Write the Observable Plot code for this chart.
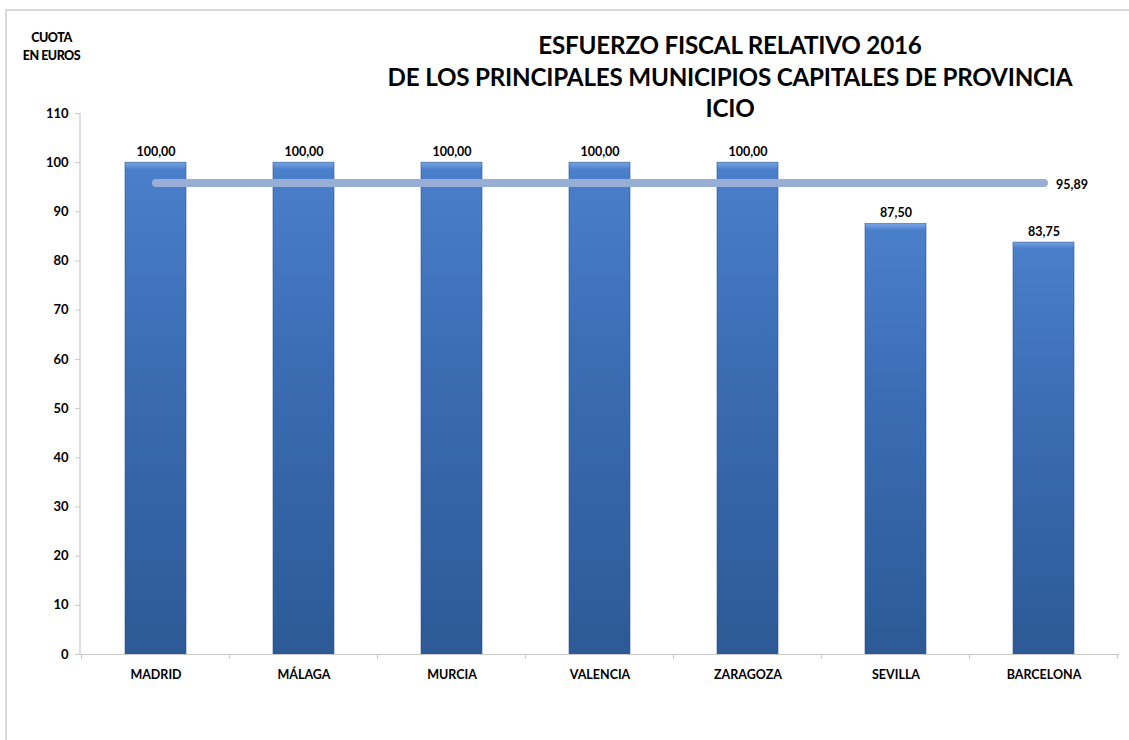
<!DOCTYPE html>
<html>
<head>
<meta charset="utf-8">
<script src="https://cdn.jsdelivr.net/npm/d3@7"></script>
<script src="https://cdn.jsdelivr.net/npm/@observablehq/plot@0.6"></script>
<style>
  html, body { margin: 0; padding: 0; background: #fff; }
  #wrap { position: relative; width: 1129px; height: 740px; overflow: hidden; font-family: Lato, "Open Sans", sans-serif; }
  #frame { position: absolute; left: 5px; top: 9px; width: 1140px; height: 760px; border: 2px solid #d9d9d9; box-sizing: border-box; }
  #title { position: absolute; left: 330px; width: 800px; top: 29px; text-align: center; font-weight: 700; font-size: 24.2px; line-height: 31.5px; color: #000; letter-spacing: -0.2px; }
  #unit { position: absolute; left: 10px; top: 29px; width: 83px; text-align: center; font-weight: 900; font-size: 12.5px; line-height: 18px; letter-spacing: -0.5px; color: #000; }
  #chart { position: absolute; left: 0; top: 0; }
</style>
</head>
<body>
<div id="wrap">
  <div id="frame"></div>
  <div id="title">ESFUERZO FISCAL RELATIVO 2016<br>DE LOS PRINCIPALES MUNICIPIOS CAPITALES DE PROVINCIA<br>ICIO</div>
  <div id="unit">CUOTA<br>EN EUROS</div>
  <div id="chart"></div>
</div>
<script>
const cities = ["MADRID", "MÁLAGA", "MURCIA", "VALENCIA", "ZARAGOZA", "SEVILLA", "BARCELONA"];
const values = [100.00, 100.00, 100.00, 100.00, 100.00, 87.50, 83.75];
const average = 95.89;
const yTicks = [0, 10, 20, 30, 40, 50, 60, 70, 80, 90, 100, 110];

const data = cities.map((c, i) => ({city: c, value: values[i]}));
const avgData = [{city: cities[0], value: average}, {city: cities[cities.length - 1], value: average}];
const fmt = v => v.toFixed(2).replace(".", ",");

const FONT = "Lato, 'Open Sans', sans-serif";

// gradient defs + axis lines derived from scales
function decorations(index, scales, values, dims) {
  const g = d3.create("svg:g");
  const defs = g.append("defs");
  const lg = defs.append("linearGradient").attr("id", "barGrad").attr("x1", 0).attr("y1", 0).attr("x2", 0).attr("y2", 1);
  lg.append("stop").attr("offset", "0%").attr("stop-color", "#7aa5e6");
  lg.append("stop").attr("offset", "1.5%").attr("stop-color", "#4a7fcb");
  lg.append("stop").attr("offset", "40%").attr("stop-color", "#3b6db4");
  lg.append("stop").attr("offset", "100%").attr("stop-color", "#2d5a96");
  const left = dims.marginLeft;
  const top = dims.marginTop;
  const bottom = dims.height - dims.marginBottom;
  g.append("line").attr("x1", left).attr("x2", left).attr("y1", top).attr("y2", bottom + 0.5)
    .attr("stroke", "#c8c8c8").attr("stroke-width", 1.2);
  const x = scales.x;
  const step = x.step ? x.step() : x.bandwidth();
  const bw = x.bandwidth();
  const bounds = cities.map(c => x(c) + bw / 2 - step / 2);
  bounds.push(x(cities[cities.length - 1]) + bw / 2 + step / 2);
  for (const b of bounds) {
    g.append("line").attr("x1", b).attr("x2", b).attr("y1", bottom).attr("y2", bottom + 5)
      .attr("stroke", "#c8c8c8").attr("stroke-width", 1.2);
  }
  return g.node();
}

const chart = Plot.plot({
  width: 1129,
  height: 700,
  marginLeft: 80,
  marginRight: 10,
  marginTop: 113,
  marginBottom: 46,
  style: {fontFamily: FONT, background: "transparent", overflow: "visible"},
  x: {domain: cities, paddingInner: 0.59, paddingOuter: 0.295, label: null},
  y: {domain: [0, 110], label: null},
  marks: [
    decorations,
    Plot.axisY({ticks: yTicks, tickSize: 5, tickPadding: 7, stroke: "#c8c8c8", fill: "#000", fontSize: 13, fontWeight: "bold", tickFormat: d => String(d), label: null}),
    Plot.axisX({tickSize: 0, tickPadding: 16, fill: "#000", fontSize: 12.5, fontWeight: "bold", label: null}),
    Plot.barY(data, {x: "city", y: "value", fill: "url(#barGrad)", stroke: "#2a5790", strokeWidth: 0.6}),
    Plot.ruleY([0], {stroke: "#c8c8c8", strokeWidth: 1.2}),
    Plot.line(avgData, {x: "city", y: "value", stroke: "#97aed5", strokeWidth: 8, strokeLinecap: "round"}),
    Plot.text(data, {x: "city", y: "value", text: d => fmt(d.value), dy: -11, fill: "#000", fontSize: 12.5, fontWeight: "bold"}),
    Plot.text(avgData.slice(1), {x: "city", y: "value", text: d => fmt(d.value), dx: 12, dy: 2, textAnchor: "start", fill: "#000", fontSize: 12.5, fontWeight: "bold"})
  ]
});
document.getElementById("chart").appendChild(chart);
</script>
</body>
</html>
